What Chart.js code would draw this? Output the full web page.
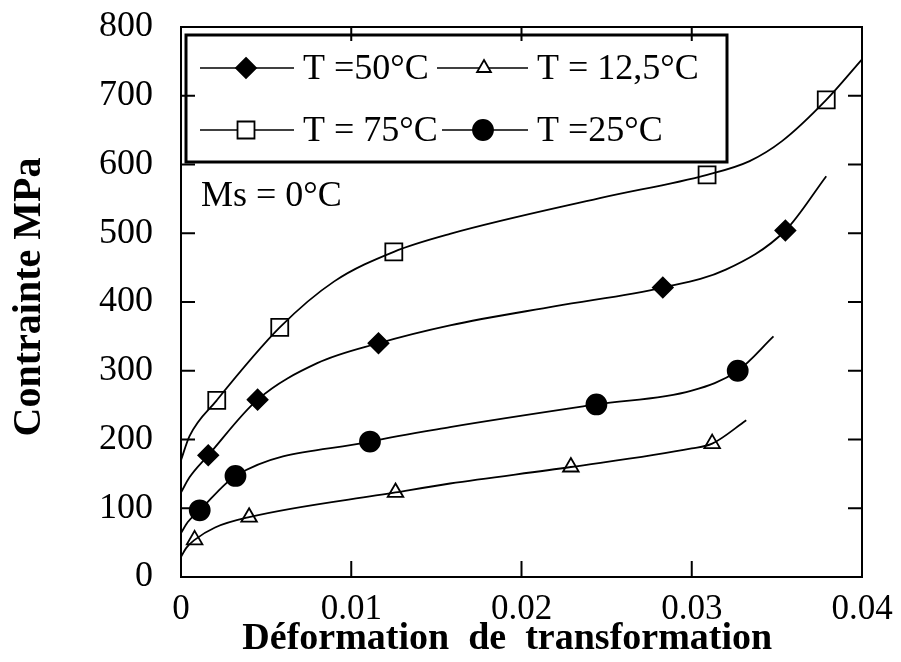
<!DOCTYPE html>
<html>
<head>
<meta charset="utf-8">
<script src="https://cdn.jsdelivr.net/npm/chart.js@4/dist/chart.umd.min.js"></script>
<style>
  html, body { margin: 0; padding: 0; background: #fff; }
  canvas { display: block; }
</style>
</head>
<body>
<canvas id="chart" width="901" height="662"></canvas>
<script>
// tick labels
const xTickLabels = ['0', '0.01', '0.02', '0.03', '0.04'];
const yTickLabels = ['0', '100', '200', '300', '400', '500', '600', '700', '800'];

// measured points (markers)
const markX50 = [0.0016, 0.0045, 0.0116, 0.0283, 0.0355];
const markY50 = [177, 258, 340, 421, 504];
const markX125 = [0.0008, 0.0040, 0.0126, 0.0229, 0.0312];
const markY125 = [54, 87, 123, 160, 194];
const markX75 = [0.0021, 0.0058, 0.0125, 0.0309, 0.0379];
const markY75 = [257, 363, 473, 585, 694];
const markX25 = [0.0011, 0.0032, 0.0111, 0.0244, 0.0327];
const markY25 = [97, 147, 197, 251, 300];

// fitted curves
const curveX50 = [0, 0.0005, 0.0016, 0.0045, 0.008, 0.0116, 0.0158, 0.022, 0.0283, 0.032, 0.0355, 0.0379];
const curveY50 = [123, 145, 177, 258, 311, 340, 366, 394, 421, 447, 504, 583];
const curveX125 = [0, 0.0003, 0.0008, 0.002, 0.0040, 0.0126, 0.0158, 0.0229, 0.030, 0.0312, 0.0332];
const curveY125 = [29, 42, 54, 72, 87, 123, 136, 160, 187, 194, 228];
const curveX75 = [0, 0.0005, 0.0021, 0.0058, 0.009, 0.0125, 0.0158, 0.0246, 0.0309, 0.0334, 0.0353, 0.0379, 0.04];
const curveY75 = [170, 205, 257, 363, 430, 473, 499, 551, 585, 605, 634, 694, 753];
const curveX25 = [0, 0.0004, 0.0011, 0.0032, 0.0111, 0.0158, 0.0244, 0.030, 0.0327, 0.0348];
const curveY25 = [64, 80, 97, 147, 197, 218, 251, 271, 300, 350];

const SERIF = '"Liberation Serif", "Times New Roman", serif';

const toXY = (xs, ys) => xs.map((x, i) => ({ x: x, y: ys[i] }));

function curveSet(xs, ys) {
  return {
    type: 'line',
    data: toXY(xs, ys),
    borderColor: '#000',
    borderWidth: 1.8,
    pointRadius: 0,
    cubicInterpolationMode: 'monotone',
    fill: false,
    clip: false,
  };
}

function markerSet(xs, ys, style, radius, filled) {
  return {
    type: 'scatter',
    data: toXY(xs, ys),
    showLine: false,
    pointStyle: style,
    pointRadius: radius,
    pointBorderWidth: 1.8,
    pointBorderColor: '#000',
    pointBackgroundColor: filled ? '#000' : '#fff',
    clip: false,
  };
}

// draw a marker shape for the custom legend
function drawMarker(ctx, style, x, y, r, filled) {
  ctx.beginPath();
  if (style === 'rectRot') {
    ctx.moveTo(x, y - r); ctx.lineTo(x + r, y); ctx.lineTo(x, y + r); ctx.lineTo(x - r, y);
    ctx.closePath();
  } else if (style === 'rect') {
    const s = r * Math.SQRT1_2;
    ctx.rect(x - s, y - s, 2 * s, 2 * s);
  } else if (style === 'triangle') {
    for (let k = 0; k < 3; k++) {
      const a = k * 2 * Math.PI / 3;
      const px = x + Math.sin(a) * r, py = y - Math.cos(a) * r;
      if (k === 0) ctx.moveTo(px, py); else ctx.lineTo(px, py);
    }
    ctx.closePath();
  } else {
    ctx.arc(x, y, r, 0, Math.PI * 2);
  }
  ctx.fillStyle = filled ? '#000' : '#fff';
  ctx.fill();
  ctx.lineWidth = 1.8;
  ctx.strokeStyle = '#000';
  ctx.stroke();
}

const legendItems = [
  { text: 'T =50°C', style: 'rectRot', r: 10, filled: true, x0: 200, x1: 294, mx: 246, tx: 303, y: 68 },
  { text: 'T = 12,5°C', style: 'triangle', r: 8, filled: false, x0: 437, x1: 528, mx: 484, tx: 537, y: 68 },
  { text: 'T = 75°C', style: 'rect', r: 12, filled: false, x0: 200, x1: 294, mx: 246, tx: 303, y: 130 },
  { text: 'T =25°C', style: 'circle', r: 10, filled: true, x0: 442, x1: 528, mx: 483, tx: 537, y: 130 },
];

const boxLegend = {
  id: 'boxLegend',
  afterDatasetsDraw(chart) {
    const ctx = chart.ctx;
    ctx.save();
    ctx.fillStyle = '#fff';
    ctx.fillRect(186, 35, 541, 127);
    ctx.lineWidth = 3;
    ctx.strokeStyle = '#000';
    ctx.strokeRect(186, 35, 541, 127);
    legendItems.forEach(it => {
      ctx.beginPath();
      ctx.lineWidth = 1.6;
      ctx.moveTo(it.x0, it.y);
      ctx.lineTo(it.x1, it.y);
      ctx.stroke();
      drawMarker(ctx, it.style, it.mx, it.y, it.r, it.filled);
      ctx.fillStyle = '#000';
      ctx.font = '36px ' + SERIF;
      ctx.textBaseline = 'middle';
      ctx.textAlign = 'left';
      ctx.fillText(it.text, it.tx, it.y + 2);
    });
    ctx.font = '36px ' + SERIF;
    ctx.fillText('Ms = 0°C', 201, 197);
    ctx.restore();
  }
};

// frame with inward ticks on all four sides
const frame = {
  id: 'frame',
  afterDraw(chart) {
    const { ctx, chartArea: a, scales } = chart;
    ctx.save();
    ctx.strokeStyle = '#000';
    ctx.lineWidth = 2;
    ctx.strokeRect(a.left, a.top, a.right - a.left, a.bottom - a.top);
    ctx.beginPath();
    yTickLabels.forEach(l => {
      const py = scales.y.getPixelForValue(Number(l));
      ctx.moveTo(a.left, py); ctx.lineTo(a.left + 14, py);
      ctx.moveTo(a.right, py); ctx.lineTo(a.right - 14, py);
    });
    xTickLabels.forEach(l => {
      const px = scales.x.getPixelForValue(Number(l));
      ctx.moveTo(px, a.bottom); ctx.lineTo(px, a.bottom - 16);
      ctx.moveTo(px, a.top); ctx.lineTo(px, a.top + 14);
    });
    ctx.stroke();
    ctx.restore();
  }
};

new Chart(document.getElementById('chart'), {
  data: {
    datasets: [
      curveSet(curveX75, curveY75),
      curveSet(curveX50, curveY50),
      curveSet(curveX25, curveY25),
      curveSet(curveX125, curveY125),
      markerSet(markX75, markY75, 'rect', 12, false),
      markerSet(markX50, markY50, 'rectRot', 10, true),
      markerSet(markX25, markY25, 'circle', 10, true),
      markerSet(markX125, markY125, 'triangle', 9, false),
    ]
  },
  options: {
    responsive: false,
    animation: false,
    devicePixelRatio: 1,
    layout: { padding: { top: 27, right: 39, left: 0, bottom: 0 } },
    plugins: {
      legend: { display: false },
      tooltip: { enabled: false },
    },
    scales: {
      x: {
        type: 'linear',
        min: 0,
        max: 0.04,
        grid: { display: false, drawTicks: false },
        border: { display: false },
        ticks: {
          stepSize: 0.01,
          padding: 12,
          color: '#000',
          font: { family: SERIF, size: 35 },
          maxRotation: 0,
          callback: (v, i) => xTickLabels[i],
        },
        title: {
          display: true,
          text: 'Déformation  de  transformation   ',
          color: '#000',
          font: { family: SERIF, size: 38, weight: 'bold', lineHeight: 1.2 },
          padding: { top: 0, bottom: 0 },
        },
        afterFit: s => {
          s.height = 85;
          s.paddingLeft = 0;
          s.paddingRight = 0;
        },
      },
      y: {
        type: 'linear',
        min: 0,
        max: 800,
        grid: { display: false, drawTicks: false },
        border: { display: false },
        ticks: {
          stepSize: 100,
          padding: 28,
          color: '#000',
          font: { family: SERIF, size: 36 },
          callback: (v, i) => yTickLabels[i],
        },
        title: {
          display: true,
          text: ' Contrainte MPa',
          color: '#000',
          font: { family: SERIF, size: 40, weight: 'bold', lineHeight: 1.2 },
          padding: { top: 6, bottom: 0 },
        },
        afterFit: s => {
          s.width = 181;
          s.paddingTop = 0;
          s.paddingBottom = 0;
        },
      },
    },
  },
  plugins: [boxLegend, frame],
});
</script>
</body>
</html>
